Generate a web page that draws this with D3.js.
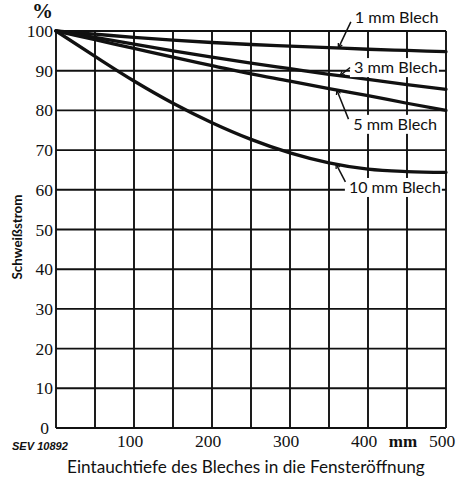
<!DOCTYPE html>
<html>
<head>
<meta charset="utf-8">
<script src="https://cdn.jsdelivr.net/npm/d3@7"></script>
<style>
  html, body { margin: 0; padding: 0; background: #fff; }
  svg { display: block; }
  .num { font-family: "Liberation Serif", "Times New Roman", "DejaVu Serif", serif; }
  .lab { font-family: "Lato", "Liberation Sans", sans-serif; }
</style>
</head>
<body>
<svg id="chart" width="457" height="479"></svg>
<script>
// ---- data ----
const depthMm = [0, 50, 100, 150, 200, 250, 300, 350, 400, 450, 500];
const blech1  = [100, 99.2, 98.4, 97.7, 97.1, 96.6, 96.2, 95.8, 95.4, 95.1, 94.8];
const blech3  = [100, 98.4, 96.7, 95.0, 93.4, 91.9, 90.5, 89.1, 87.8, 86.5, 85.3];
const blech5  = [100, 97.8, 95.6, 93.4, 91.3, 89.2, 87.4, 85.5, 83.7, 81.8, 80.0];
const blech10 = [100, 93.6, 87.4, 81.8, 76.9, 72.7, 69.3, 66.8, 65.2, 64.6, 64.4];
const seriesNames = ["1 mm Blech", "3 mm Blech", "5 mm Blech", "10 mm Blech"];
const seriesValues = [blech1, blech3, blech5, blech10];
// label anchor (mm, %), leader start (mm, %), leader end on curve (mm)
const labelX      = [383, 382, 381, 375.5];
const labelY      = [101.9, 89.4, 75.1, 59.2];
const leaderFromX = [378, 377, 375, 371];
const leaderFromY = [102.3, 90.8, 77.8, 62.0];
const leaderToX   = [362, 364, 360, 359];
const xTickLabels = [100, 200, 300, 400, 500];
const yTickLabels = [0, 10, 20, 30, 40, 50, 60, 70, 80, 90, 100];
const xGrid = [0, 50, 100, 150, 200, 250, 300, 350, 400, 450, 500];

// ---- scales ----
const x = d3.scaleLinear().domain([0, 500]).range([56, 446]);
const y = d3.scaleLinear().domain([0, 100]).range([428, 31]);

const svg = d3.select("#chart");
const ink = "#111";

// scale a text's font size so its drawn width equals target
function fitWidth(sel, target) {
  const fs = parseFloat(sel.style("font-size"));
  const w = sel.node().getComputedTextLength();
  if (w > 0) sel.style("font-size", (fs * target / w) + "px");
  return sel;
}

// grid
const grid = svg.append("g").attr("stroke", ink).attr("stroke-width", 1.9);
grid.selectAll("line.v").data(xGrid).join("line")
  .attr("x1", d => x(d)).attr("x2", d => x(d))
  .attr("y1", y(0)).attr("y2", y(100));
grid.selectAll("line.h").data(yTickLabels).join("line")
  .attr("x1", x(0)).attr("x2", x(500))
  .attr("y1", d => y(d)).attr("y2", d => y(d));

// curve labels with white backgrounds masking the grid
const labelsG = svg.append("g");
seriesNames.forEach((name, i) => {
  const t = labelsG.append("text").attr("class", "lab")
    .attr("x", x(labelX[i])).attr("y", y(labelY[i]))
    .style("font-size", "15px")
    .attr("fill", ink)
    .text(name);
  fitWidth(t, i === 3 ? 92 : 84);
  const bb = t.node().getBBox();
  labelsG.insert("rect", "text")
    .attr("x", bb.x - 4).attr("y", bb.y + 1)
    .attr("width", bb.width + 5).attr("height", bb.height)
    .attr("fill", "#fff");
});

// curves
const line = d3.line()
  .x((d, i) => x(depthMm[i]))
  .y(d => y(d))
  .curve(d3.curveMonotoneX);
svg.append("g").selectAll("path").data(seriesValues).join("path")
  .attr("d", d => line(d))
  .attr("fill", "none").attr("stroke", ink)
  .attr("stroke-width", 3.3).attr("stroke-linecap", "round");

labelsG.raise();

// leader lines
function interp(vals, mm) {
  return d3.scaleLinear().domain(depthMm).range(vals)(mm);
}
seriesValues.forEach((vals, i) => {
  const x1 = x(leaderFromX[i]), y1 = y(leaderFromY[i]);
  const x2 = x(leaderToX[i]), y2 = y(interp(vals, leaderToX[i]));
  svg.append("line")
    .attr("x1", x1).attr("y1", y1).attr("x2", x2).attr("y2", y2)
    .attr("stroke", ink).attr("stroke-width", 1.5);
  const ang = Math.atan2(y2 - y1, x2 - x1);
  const L = 5, w = 0.45;
  svg.append("path")
    .attr("d", `M${x2},${y2} L${x2 - L * Math.cos(ang - w)},${y2 - L * Math.sin(ang - w)} M${x2},${y2} L${x2 - L * Math.cos(ang + w)},${y2 - L * Math.sin(ang + w)}`)
    .attr("stroke", ink).attr("stroke-width", 1.3).attr("fill", "none");
});

// y tick labels
svg.append("g").selectAll("text").data(yTickLabels).join("text")
  .attr("class", "num")
  .attr("x", d => d === 0 ? 49 : 53)
  .attr("y", d => y(d) + 6)
  .attr("text-anchor", "end")
  .style("font-size", "17.5px")
  .attr("fill", ink)
  .text(d => d);

// percent sign
svg.append("text").attr("class", "num").attr("x", 42.5).attr("y", 18)
  .attr("text-anchor", "middle")
  .style("font-size", "21px").style("font-weight", "bold")
  .attr("fill", ink).text("%");

// x tick labels
svg.append("g").selectAll("text").data(xTickLabels).join("text")
  .attr("class", "num")
  .attr("x", d => x(d) - 4)
  .attr("y", 447)
  .attr("text-anchor", "middle")
  .style("font-size", "17.5px")
  .attr("fill", ink)
  .text(d => d);
svg.append("text").attr("class", "num").attr("x", x(450) - 4).attr("y", 447)
  .attr("text-anchor", "middle")
  .style("font-size", "17px").style("font-weight", "bold")
  .attr("fill", ink).text("mm");

// axis titles
const xt = svg.append("text").attr("class", "lab").attr("x", 67).attr("y", 473)
  .style("font-size", "15px")
  .attr("fill", ink).text("Eintauchtiefe des Bleches in die Fensteröffnung");
fitWidth(xt, 358);

const yt = svg.append("text").attr("class", "lab")
  .attr("transform", "translate(22,237) rotate(-90)")
  .attr("text-anchor", "middle")
  .style("font-size", "15px").style("font-weight", "bold")
  .attr("fill", ink).text("Schweißstrom");
fitWidth(yt, 85);

// figure reference
const sev = svg.append("text").attr("x", 12).attr("y", 450)
  .style("font-family", "'Liberation Sans', sans-serif").style("font-size", "10px")
  .style("font-weight", "bold").style("font-style", "italic")
  .attr("fill", ink).text("SEV 10892");
fitWidth(sev, 56);
</script>
</body>
</html>
